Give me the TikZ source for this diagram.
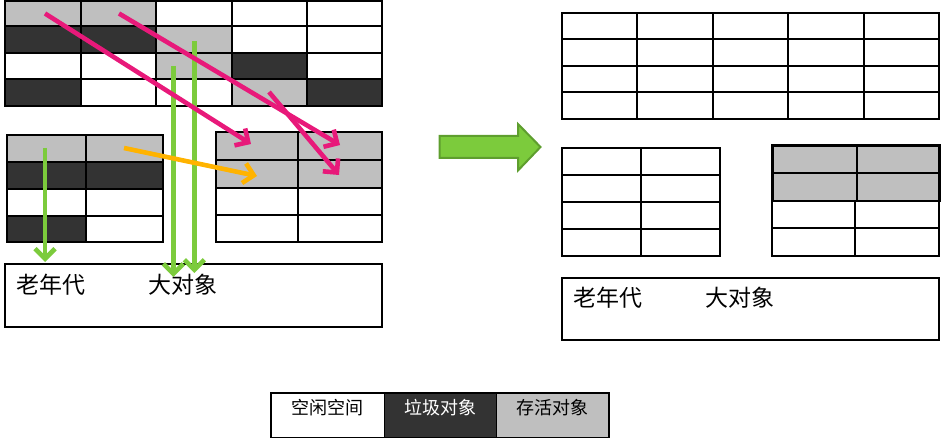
\documentclass[tikz,border=0pt]{standalone}
\usepackage{fontspec}
\newfontfamily\cjk{Noto Sans CJK SC}
\usetikzlibrary{arrows.meta}
\definecolor{darkcell}{HTML}{333333}
\definecolor{graycell}{HTML}{BFBFBF}
\definecolor{pinkarrow}{HTML}{E8197A}
\definecolor{greenarrow}{HTML}{7CCB3C}
\definecolor{greenedge}{HTML}{5E9E2E}
\definecolor{orangearrow}{HTML}{FFB300}
\tikzset{
  gridline/.style={line width=1.8pt, draw=black},
  thickgrid/.style={line width=2.6pt, draw=black},
  moveline/.style={line width=4.6pt, line cap=butt, -{Straight Barb[length=10pt,width=20pt,line width=4.6pt]}},
  pinkmove/.style={moveline, draw=pinkarrow},
  greenmove/.style={moveline, draw=greenarrow},
  orangemove/.style={moveline, draw=orangearrow},
  oldtext/.style={anchor=west, inner sep=0pt, font=\cjk\fontsize{23}{25}\selectfont},
  legendcell/.style={draw=black, line width=1.6pt, minimum width=112.5pt, minimum height=45pt, inner sep=0pt, anchor=north west},
  legendtext/.style={font=\cjk\fontsize{18}{20}\selectfont, inner sep=0pt}
}
\begin{document}
\begin{tikzpicture}[x=1pt,y=-1pt]
\useasboundingbox (0,0) rectangle (941,438);

% ---------- top-left grid (Eden before GC) ----------
\fill[graycell] (5,1) rectangle (156,26);
\fill[darkcell] (5,26) rectangle (156,53);
\fill[graycell] (156,26) rectangle (232,79);
\fill[darkcell] (232,53) rectangle (307,79);
\fill[darkcell] (5,79) rectangle (81,106);
\fill[graycell] (232,79) rectangle (307,106);
\fill[darkcell] (307,79) rectangle (382,106);
\draw[gridline] (5,1) rectangle (382,106);
\foreach \yy in {26,53,79} \draw[gridline] (5,\yy) -- (382,\yy);
\foreach \xx in {81,156,232,307} \draw[gridline] (\xx,1) -- (\xx,106);

% ---------- left middle grid (from survivor) ----------
\fill[graycell] (6.7,135) rectangle (163,162);
\fill[darkcell] (6.7,162) rectangle (163,189);
\fill[darkcell] (6.7,215.7) rectangle (85.7,242);
\draw[gridline] (6.7,135) rectangle (163,242);
\foreach \yy in {162,215.7} \draw[gridline] (6.7,\yy) -- (163,\yy);
\draw[thickgrid] (6.7,189) -- (163,189);
\draw[gridline] (85.7,135) -- (85.7,242);

% ---------- right middle grid (to survivor) ----------
\fill[graycell] (215.7,132) rectangle (382,188);
\draw[gridline] (215.7,132) rectangle (382,242);
\foreach \yy in {160,188,215} \draw[gridline] (215.7,\yy) -- (382,\yy);
\draw[gridline] (298,132) -- (298,242);

% ---------- left old generation ----------
\draw[gridline] (5,264.3) rectangle (382,327.3);
\node[oldtext] (oldL) at (16,285) {老年代};
\node[oldtext] (bigL) at (148,285) {大对象};

% ---------- right side: after GC ----------
\draw[gridline] (562,13) rectangle (939,119);
\foreach \yy in {39,66,92} \draw[gridline] (562,\yy) -- (939,\yy);
\foreach \xx in {637,713,788} \draw[gridline] (\xx,13) -- (\xx,119);
\draw[thickgrid] (864,13) -- (864,119);

\draw[gridline] (562,148) rectangle (720,256);
\foreach \yy in {175,202,229} \draw[gridline] (562,\yy) -- (720,\yy);
\draw[gridline] (641,148) -- (641,256);

\fill[graycell] (772.3,145.7) rectangle (940,201);
\draw[gridline] (772.3,145.7) rectangle (939,256);
\foreach \yy in {228.3} \draw[gridline] (772.3,\yy) -- (939,\yy);
\draw[gridline] (855.3,201) -- (855.3,256);
\draw[thickgrid] (772.3,145.7) rectangle (940,201);
\draw[gridline] (772.3,173.3) -- (940,173.3);
\draw[gridline] (856.7,145.7) -- (856.7,201);

\draw[gridline] (562.3,278.3) rectangle (939,340);
\node[oldtext] (oldR) at (573,298) {老年代};
\node[oldtext] (bigR) at (705,298) {大对象};

% ---------- big green arrow ----------
\filldraw[fill=greenarrow, draw=greenedge, line width=2pt, line join=miter]
  (439.5,136) -- (518,136) -- (518,124) -- (540.5,147) -- (518,170.5) -- (518,158) -- (439.5,158) -- cycle;

% ---------- legend ----------
\node[legendcell, fill=white, minimum width=113.5pt] (free) at (270,392) {};
\node[legendcell, fill=darkcell] (garbage) at (383.5,392) {};
\node[legendcell, fill=graycell] (alive) at (495.8,392) {};
\node[legendtext] at ([yshift=-16pt]free.north) {空闲空间};
\node[legendtext, text=white] at ([yshift=-16pt]garbage.north) {垃圾对象};
\node[legendtext] at ([yshift=-16pt]alive.north) {存活对象};

% ---------- move arrows ----------
\coordinate (p1s) at (45,13.5);
\coordinate (p1e) at (251,144);
\coordinate (p2s) at (119,13.5);
\coordinate (p2e) at (340,145);
\coordinate (p3s) at (269,92);
\coordinate (p3e) at (339,175);
\coordinate (os) at (124,148);
\coordinate (oe) at (257,176);
\coordinate (g1s) at (45,148);
\coordinate (g1e) at (45,262);
\coordinate (g2s) at (173.3,66);
\coordinate (g2e) at (173.3,277);
\coordinate (g3s) at (194.3,41);
\coordinate (g3e) at (194.3,273);

\draw[greenmove] (g2s) -- (g2e);
\draw[greenmove] (g3s) -- (g3e);
\draw[greenmove] (g1s) -- (g1e);
\draw[pinkmove] (p1s) -- (p1e);
\draw[pinkmove] (p2s) -- (p2e);
\draw[pinkmove] (p3s) -- (p3e);
\draw[orangemove] (os) -- (oe);
\end{tikzpicture}
\end{document}
